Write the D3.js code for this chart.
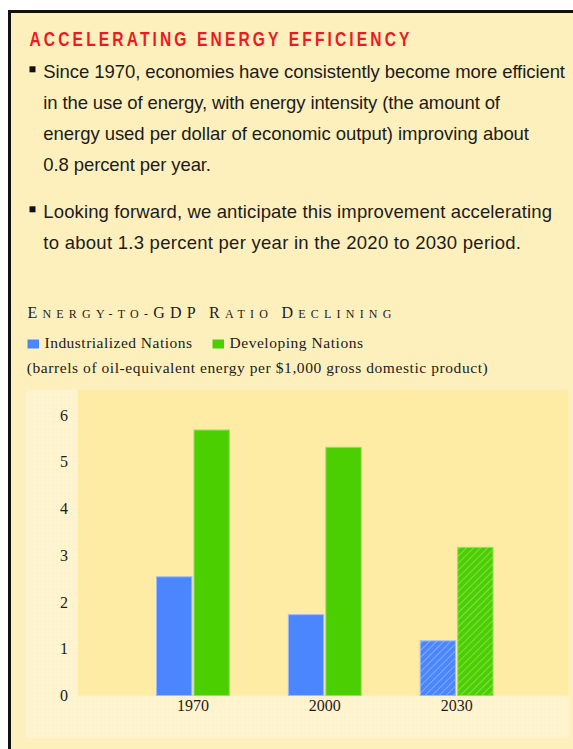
<!DOCTYPE html>
<html>
<head>
<meta charset="utf-8">
<script src="https://cdn.jsdelivr.net/npm/d3@7"></script>
<style>
  body { margin: 0; background: #fff; }
  svg { display: block; }
</style>
</head>
<body>
<svg id="chart" width="573" height="749"></svg>
<script>
// values
var years = ["1970", "2000", "2030"];
var seriesNames = ["Industrialized Nations", "Developing Nations"];
var industrialized = [2.55, 1.74, 1.18];
var developing = [5.69, 5.32, 3.18];
var projected = [false, false, true];
var yTicks = [0, 1, 2, 3, 4, 5, 6];

var headline = "ACCELERATING ENERGY EFFICIENCY";
var bullets = [
  ["Since 1970, economies have consistently become more efficient",
   "in the use of energy, with energy intensity (the amount of",
   "energy used per dollar of economic output) improving about",
   "0.8 percent per year."],
  ["Looking forward, we anticipate this improvement accelerating",
   "to about 1.3 percent per year in the 2020 to 2030 period."]
];
var chartTitle = [["E", 1], ["NERGY-TO-", 0], ["GDP", 1], [" ", 0], ["R", 1], ["ATIO ", 0], ["D", 1], ["ECLINING", 0]];
var unitsNote = "(barrels of oil-equivalent energy per $1,000 gross domestic product)";

var colors = { "Industrialized Nations": "#4b86ff", "Developing Nations": "#4bcf00" };
var edge = { "Industrialized Nations": "#9dbcff", "Developing Nations": "#93e25e" };

var svg = d3.select("#chart");
var defs = svg.append("defs");

// dotted texture for the lighter chart panel
var dots = defs.append("pattern")
    .attr("id", "dots")
    .attr("width", 4).attr("height", 4)
    .attr("patternUnits", "userSpaceOnUse");
dots.append("rect").attr("width", 4).attr("height", 4).attr("fill", "#fff4d0");
dots.append("circle").attr("cx", 1).attr("cy", 1).attr("r", 0.6).attr("fill", "#fbe9b6");

// hatch for projected bars
seriesNames.forEach(function(s, i) {
  var p = defs.append("pattern")
      .attr("id", "hatch" + i)
      .attr("width", 5).attr("height", 5)
      .attr("patternUnits", "userSpaceOnUse")
      .attr("patternTransform", "rotate(45)");
  p.append("rect").attr("width", 5).attr("height", 5).attr("fill", colors[s]);
  p.append("line").attr("x1", 0).attr("y1", 0).attr("x2", 0).attr("y2", 5)
      .attr("stroke", "#ffffff").attr("stroke-opacity", 0.55).attr("stroke-width", 1.1);
});

// page background and frame
svg.append("rect").attr("x", 9).attr("y", 11).attr("width", 564).attr("height", 738).attr("fill", "#fef0bd");
svg.append("rect").attr("x", 8).attr("y", 10).attr("width", 565).attr("height", 3).attr("fill", "#111");
svg.append("rect").attr("x", 8).attr("y", 10).attr("width", 3).attr("height", 739).attr("fill", "#111");

// headline: squeezed glyphs, wide tracking
var squeeze = 0.8;
svg.append("text")
    .attr("transform", "scale(" + squeeze + ",1)")
    .attr("x", 29.5 / squeeze).attr("y", 46.5)
    .attr("textLength", 380 / squeeze).attr("lengthAdjust", "spacing")
    .style("font-family", "'Liberation Sans', Arial, sans-serif")
    .style("font-weight", "bold")
    .style("font-size", "19.5px")
    .attr("fill", "#ec1a22")
    .text(headline);

// bullets
var lineTop = [78.3, 218.3];
var lineGap = 30.9;
var lineEnds = [[565, 500, 529, 211], [552, 521]];
bullets.forEach(function(lines, b) {
  svg.append("rect")
      .attr("x", 29.5).attr("y", lineTop[b] - 12)
      .attr("width", 6).attr("height", 6)
      .attr("fill", "#111");
  lines.forEach(function(t, i) {
    svg.append("text")
        .attr("x", 43.3).attr("y", lineTop[b] + i * lineGap)
        .attr("textLength", lineEnds[b][i] - 43.3).attr("lengthAdjust", "spacing")
        .style("font-family", "'Liberation Sans', Arial, sans-serif")
        .style("font-size", "18.5px")
        .attr("fill", "#1b1b1b")
        .text(t);
  });
});

// chart title in small caps
var ct = svg.append("text")
    .attr("x", 27.4).attr("y", 317.6)
    .attr("textLength", 364).attr("lengthAdjust", "spacing")
    .style("font-family", "'Liberation Serif', 'Times New Roman', serif")
    .attr("fill", "#1b1b1b");
chartTitle.forEach(function(d) {
  ct.append("tspan").style("font-size", d[1] ? "16px" : "12px").text(d[0]);
});

// legend
var legendX = [27.5, 212.5];
var legendEnd = [192, 363];
seriesNames.forEach(function(s, i) {
  svg.append("rect")
      .attr("x", legendX[i]).attr("y", 339.5)
      .attr("width", 11.5).attr("height", 9)
      .attr("fill", colors[s]);
  svg.append("text")
      .attr("x", legendX[i] + 17).attr("y", 347.8)
      .attr("textLength", legendEnd[i] - legendX[i] - 17).attr("lengthAdjust", "spacing")
      .style("font-family", "'Liberation Serif', 'Times New Roman', serif")
      .style("font-size", "15.5px")
      .attr("fill", "#1b1b1b")
      .text(s);
});

svg.append("text")
    .attr("x", 26.7).attr("y", 373.3)
    .attr("textLength", 461).attr("lengthAdjust", "spacing")
    .style("font-family", "'Liberation Serif', 'Times New Roman', serif")
    .style("font-size", "15.5px")
    .attr("fill", "#1b1b1b")
    .text(unitsNote);

// chart panels
var panel = { left: 26, right: 568.5, top: 390, bottom: 738 };
var plot = { left: 78, right: 568.5, top: 390, bottom: 695.7 };

svg.append("rect")
    .attr("x", panel.left).attr("y", panel.top)
    .attr("width", panel.right - panel.left).attr("height", panel.bottom - panel.top)
    .attr("fill", "url(#dots)");
svg.append("rect")
    .attr("x", plot.left).attr("y", plot.top)
    .attr("width", plot.right - plot.left).attr("height", plot.bottom - plot.top)
    .attr("fill", "#feeca4");

// scales
var x = d3.scaleBand()
    .domain(years)
    .range([plot.left, plot.right])
    .paddingInner(0.44)
    .paddingOuter(0.58)
    .align(0.51);

var xs = d3.scaleBand()
    .domain(seriesNames)
    .range([0, x.bandwidth()])
    .paddingInner(0.03);

var y = d3.scaleLinear()
    .domain([0, 6])
    .range([695.5, 415]);

var rows = years.map(function(yr, i) {
  return { year: yr, projected: projected[i], values: [industrialized[i], developing[i]] };
});

var groups = svg.append("g").selectAll("g")
    .data(rows)
    .join("g")
    .attr("transform", function(d) { return "translate(" + x(d.year) + ",0)"; });

groups.selectAll("rect")
    .data(function(d) {
      return d.values.map(function(v, j) {
        return { name: seriesNames[j], idx: j, value: v, projected: d.projected };
      });
    })
    .join("rect")
    .attr("x", function(d) { return xs(d.name) + 0.5; })
    .attr("y", function(d) { return y(d.value) + 0.5; })
    .attr("width", xs.bandwidth() - 1)
    .attr("height", function(d) { return y(0) - y(d.value) - 0.5; })
    .attr("fill", function(d) { return d.projected ? "url(#hatch" + d.idx + ")" : colors[d.name]; })
    .attr("stroke", function(d) { return edge[d.name]; })
    .attr("stroke-width", 1);

// axes
var yAxis = d3.axisLeft(y).tickValues(yTicks).tickSize(0).tickPadding(0).tickFormat(d3.format("d"));
var gy = svg.append("g")
    .attr("transform", "translate(68,0)")
    .call(yAxis);
gy.select(".domain").remove();
gy.selectAll("text")
    .style("font-family", "'Liberation Serif', 'Times New Roman', serif")
    .style("font-size", "16px")
    .attr("fill", "#1b1b1b");

var xAxis = d3.axisBottom(x).tickSize(0).tickPadding(0);
var gx = svg.append("g")
    .attr("transform", "translate(0," + plot.bottom + ")")
    .call(xAxis);
gx.select(".domain").remove();
gx.selectAll("text")
    .attr("dy", "0")
    .attr("y", 15.5)
    .style("font-family", "'Liberation Serif', 'Times New Roman', serif")
    .style("font-size", "16px")
    .attr("fill", "#1b1b1b");
</script>
</body>
</html>
